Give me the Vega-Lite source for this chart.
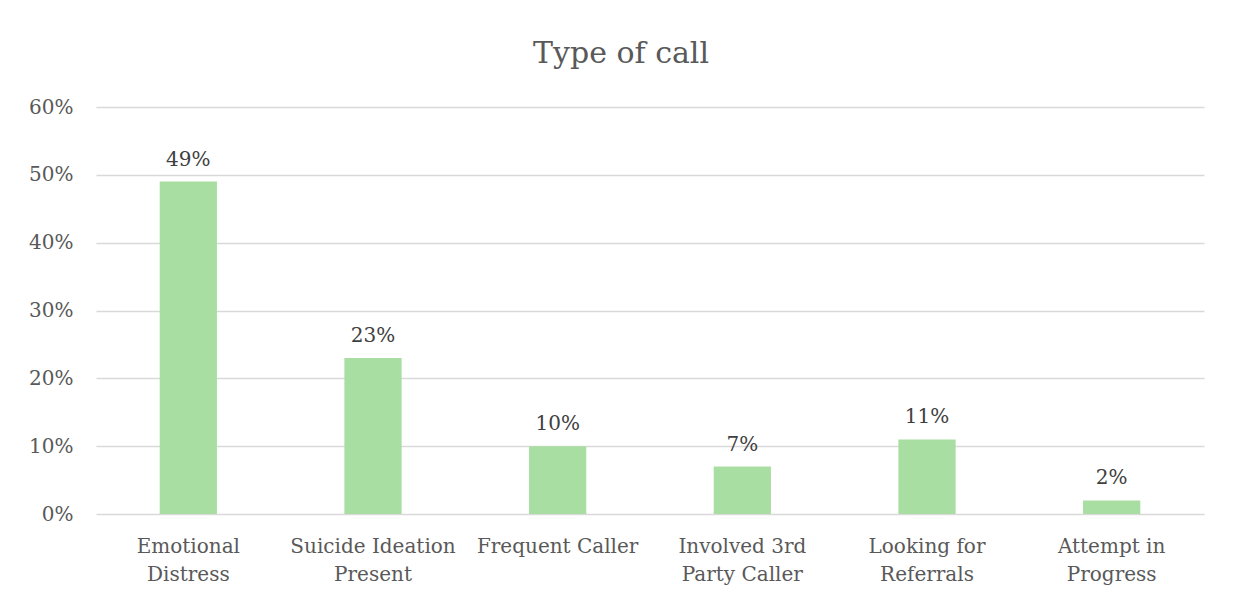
{
  "$schema": "https://vega.github.io/schema/vega-lite/v6.json",
  "width": 1108,
  "height": 407,
  "autosize": {"type": "none"},
  "padding": {"left": 96, "top": 107, "right": 29, "bottom": 84},
  "background": "white",
  "title": {
    "text": "Type of call",
    "font": "DejaVu Serif",
    "fontSize": 30,
    "fontWeight": "normal",
    "color": "#595959",
    "anchor": "middle",
    "frame": "group",
    "dx": -29,
    "offset": 28
  },
  "data": {
    "values": [
      {"category": "Emotional Distress", "share": 0.49},
      {"category": "Suicide Ideation Present", "share": 0.23},
      {"category": "Frequent Caller", "share": 0.10},
      {"category": "Involved 3rd Party Caller", "share": 0.07},
      {"category": "Looking for Referrals", "share": 0.11},
      {"category": "Attempt in Progress", "share": 0.02}
    ]
  },
  "encoding": {
    "x": {
      "field": "category",
      "type": "nominal",
      "sort": null,
      "scale": {"paddingInner": 0.69, "paddingOuter": 0.345},
      "axis": {
        "title": null,
        "labelAngle": 0,
        "ticks": false,
        "domain": false,
        "labelFont": "DejaVu Serif",
        "labelFontSize": 20,
        "labelColor": "#595959",
        "labelBaseline": "alphabetic",
        "labelLineHeight": 28,
        "labelPadding": 38,
        "labelExpr": "datum.label == 'Emotional Distress' ? ['Emotional', 'Distress'] : datum.label == 'Suicide Ideation Present' ? ['Suicide Ideation', 'Present'] : datum.label == 'Involved 3rd Party Caller' ? ['Involved 3rd', 'Party Caller'] : datum.label == 'Looking for Referrals' ? ['Looking for', 'Referrals'] : datum.label == 'Attempt in Progress' ? ['Attempt in', 'Progress'] : datum.label"
      }
    },
    "y": {
      "field": "share",
      "type": "quantitative",
      "scale": {"domain": [0, 0.6], "nice": false},
      "axis": {
        "title": null,
        "values": [0, 0.1, 0.2, 0.3, 0.4, 0.5, 0.6],
        "format": ".0%",
        "ticks": false,
        "domain": false,
        "grid": true,
        "gridColor": "#d9d9d9",
        "gridWidth": 1.5,
        "labelFont": "DejaVu Serif",
        "labelFontSize": 20,
        "labelColor": "#595959",
        "labelPadding": 23
      }
    }
  },
  "layer": [
    {"mark": {"type": "bar", "color": "#a9dea2"}},
    {
      "mark": {
        "type": "text",
        "font": "DejaVu Serif",
        "fontSize": 20,
        "color": "#404040",
        "baseline": "alphabetic",
        "dy": -16
      },
      "encoding": {"text": {"field": "share", "type": "quantitative", "format": ".0%"}}
    }
  ],
  "config": {"view": {"stroke": null}}
}
